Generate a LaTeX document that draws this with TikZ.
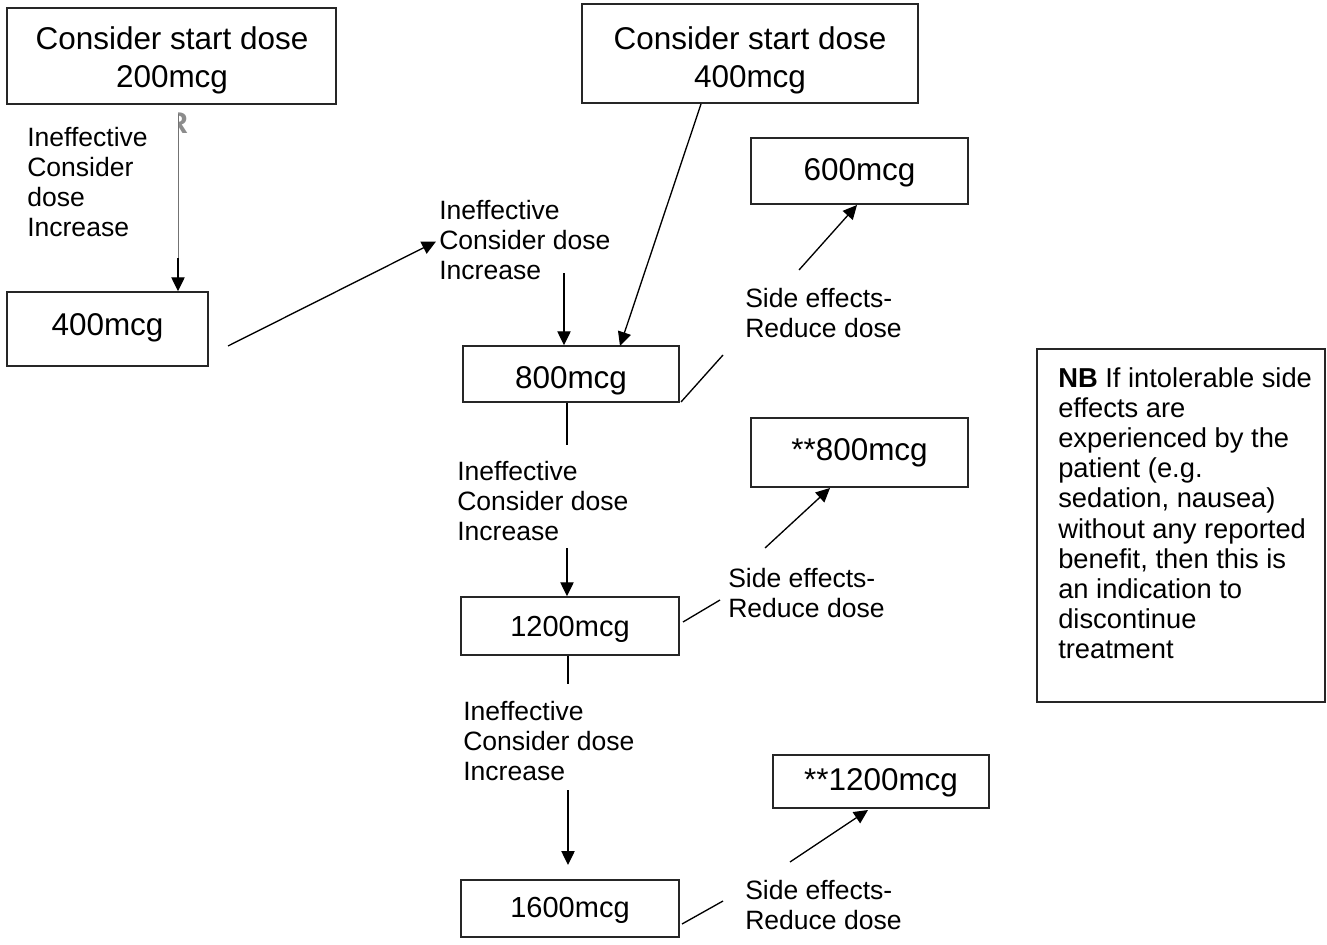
\documentclass[tikz,border=0pt]{standalone}
\usepackage{fontspec}
\setmainfont{Liberation Sans}
\usetikzlibrary{arrows.meta}
\newcommand\bigtxt{\fontsize{23.6pt}{28.5pt}\selectfont}
\newcommand\midtxt{\fontsize{21.75pt}{26pt}\selectfont}
\newcommand\lbltxt{\fontsize{19.9pt}{22.5pt}\selectfont}
\newcommand\nbtxt{\fontsize{20.5pt}{22.65pt}\selectfont}
\begin{document}
\begin{tikzpicture}[x=0.75pt,y=-0.75pt,
  box/.style={draw=black!85, line width=1.1pt, inner sep=0pt},
  boxtxt/.style={inner sep=0pt, align=center, font=\bigtxt},
  lbl/.style={anchor=north west, inner sep=0pt, align=left, font=\lbltxt},
  conn/.style={line width=1pt},
  arr/.style={conn, -{Triangle[length=10.5pt,width=10pt]}}]
\useasboundingbox (0,0) rectangle (1327,945);

% boxes
\node[box, minimum width=246.75pt, minimum height=72pt] (A) at (171.5,56) {};
\node[box, minimum width=150.75pt, minimum height=55.5pt] (B) at (107.5,329) {};
\node[box, minimum width=252pt, minimum height=74.25pt] (C) at (750,53.5) {};
\node[box, minimum width=162.75pt, minimum height=49.5pt] (D) at (859.5,171) {};
\node[box, minimum width=162pt, minimum height=42pt] (E) at (571,374) {};
\node[box, minimum width=162.75pt, minimum height=51.75pt] (F) at (859.5,452.5) {};
\node[box, minimum width=163.5pt, minimum height=43.5pt] (G) at (570,626) {};
\node[box, minimum width=162pt, minimum height=39.75pt] (H) at (881,781.5) {};
\node[box, minimum width=163.5pt, minimum height=42.75pt] (I) at (570,908.5) {};
\node[box, minimum width=216pt, minimum height=264.75pt] (NB) at (1181,525.5) {};

% box texts
\node[boxtxt] (At) at (172,60) {Consider start dose\\200mcg};
\node[boxtxt] (Bt) at (107.5,328) {400mcg};
\node[boxtxt] (Ct) at (750,60) {Consider start dose\\400mcg};
\node[boxtxt] (Dt) at (859.5,173) {600mcg};
\node[boxtxt] (Et) at (571,381) {800mcg};
\node[boxtxt] (Ft) at (859.5,453) {**800mcg};
\node[boxtxt, font=\midtxt] (Gt) at (570,629) {1200mcg};
\node[boxtxt] (Ht) at (881,783) {**1200mcg};
\node[boxtxt, font=\midtxt] (It) at (570,910) {1600mcg};

% labels
\begin{scope}
\clip (178.8,100) rectangle (200,140);
\node[anchor=north west, inner sep=0pt, font=\fontsize{22.5pt}{26pt}\selectfont\bfseries, text=black!45] (R) at (166,113) {R};
\end{scope}
\node[lbl] (L1) at (27,127) {Ineffective\\Consider\\dose\\Increase};
\node[lbl] (L2) at (439,200) {Ineffective\\Consider dose\\Increase};
\node[lbl] (S1) at (745,288) {Side effects-\\Reduce dose};
\node[lbl] (L3) at (457,461) {Ineffective\\Consider dose\\Increase};
\node[lbl] (S2) at (728,568) {Side effects-\\Reduce dose};
\node[lbl] (L4) at (463,701) {Ineffective\\Consider dose\\Increase};
\node[lbl] (S3) at (745,880) {Side effects-\\Reduce dose};
\node[anchor=north west, inner sep=0pt, align=left, font=\nbtxt] (NBt) at (1058,367)
  {\textbf{NB} If intolerable side\\effects are\\experienced by the\\patient (e.g.\\sedation, nausea)\\without any reported\\benefit, then this is\\an indication to\\discontinue\\treatment};

% connector end points
\coordinate (a1) at (178,114);
\coordinate (a2) at (178,258);
\coordinate (b1) at (228,346);
\coordinate (c1) at (701,104);
\coordinate (e1) at (620,346);
\coordinate (l2b) at (564,273);
\coordinate (e2) at (681,402);
\coordinate (s1a) at (723,355);
\coordinate (s1b) at (799,270);
\coordinate (d1) at (857,205);
\coordinate (e3) at (567,445);
\coordinate (l3b) at (567,548);
\coordinate (g1) at (683,622);
\coordinate (s2a) at (720,600);
\coordinate (s2b) at (765,548);
\coordinate (f1) at (830,488);
\coordinate (g2) at (568,684);
\coordinate (l4b) at (568,790);
\coordinate (i0) at (568,865);
\coordinate (i1) at (682,924);
\coordinate (s3a) at (723,901);
\coordinate (s3b) at (790,862);
\coordinate (h1) at (868,810);

% connectors
\draw[line width=0.5pt, draw=black!55] (a1) -- (a2);
\draw[arr] (a2) -- (a2 |- B.north);
\draw[arr, shorten >=2.5pt] (b1) -- (L2.west);
\draw[arr] (c1) -- (e1);
\draw[arr] (l2b) -- (l2b |- E.north);
\draw[conn] (e2) -- (s1a);
\draw[arr] (s1b) -- (d1);
\draw[conn] (e3 |- E.south) -- (e3);
\draw[arr] (l3b) -- (l3b |- G.north);
\draw[conn] (g1) -- (s2a);
\draw[arr] (s2b) -- (f1);
\draw[conn] (g2 |- G.south) -- (g2);
\draw[arr] (l4b) -- (i0);
\draw[conn] (i1) -- (s3a);
\draw[arr] (s3b) -- (h1);
\end{tikzpicture}
\end{document}
